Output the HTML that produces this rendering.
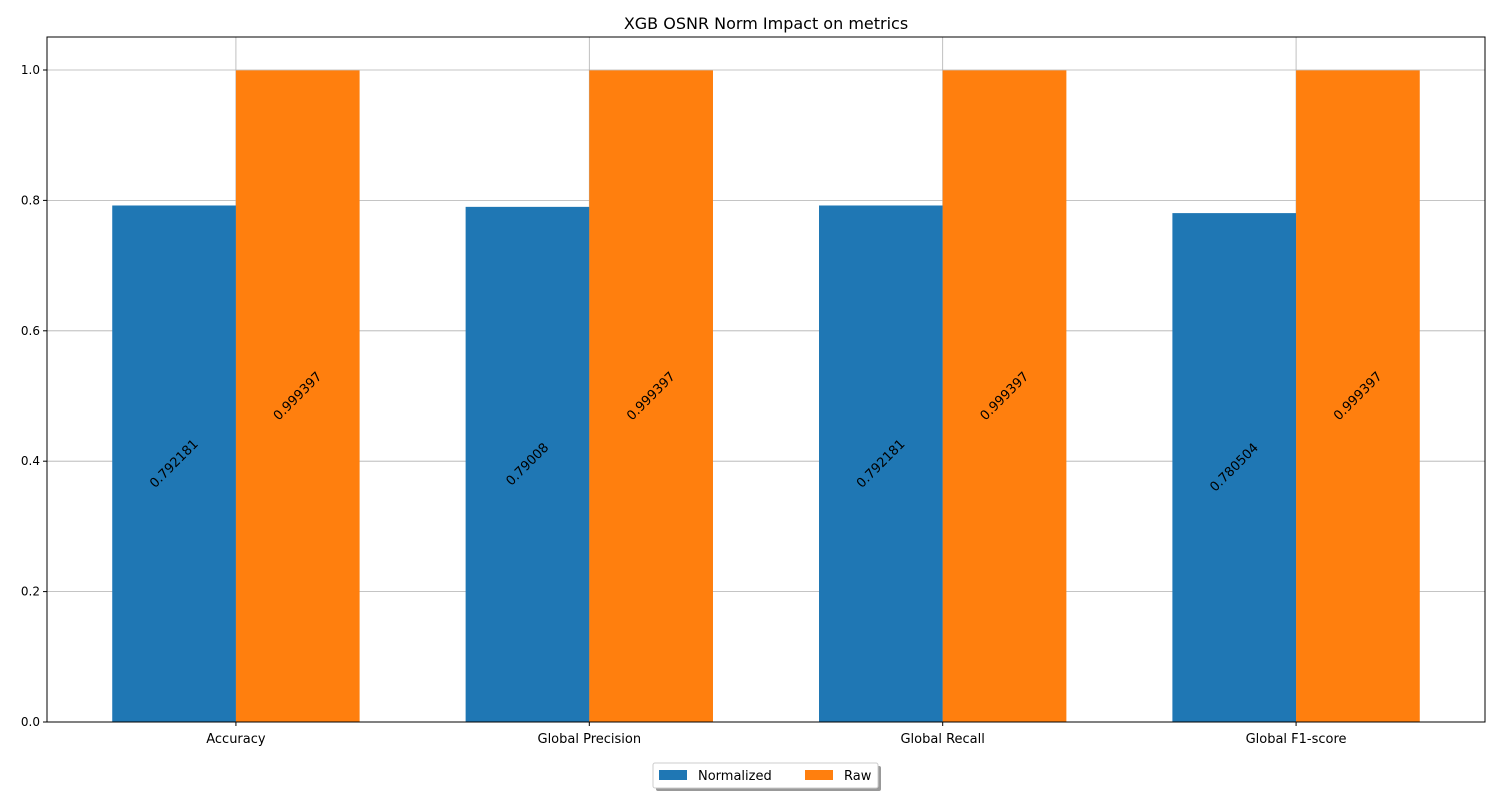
<!DOCTYPE html>
<html><head><meta charset="utf-8"><style>
body{margin:0;background:#fff;}
svg{display:block;font-family:"DejaVu Sans","Liberation Sans",sans-serif;}
</style></head><body>
<svg id="c" width="1500" height="800">
<text x="766" y="29" font-size="16" text-anchor="middle">XGB OSNR Norm Impact on metrics</text>
<g id="grid"></g><g id="bars"></g><g id="labels"></g><g id="axes"></g>
<g>
<rect x="656" y="766" width="225" height="25" rx="2" fill="#999"/>
<rect x="653" y="763" width="225" height="25" rx="2" fill="#fff" stroke="#ccc"/>
<rect x="659" y="770" width="28" height="10" fill="#1f77b4"/>
<text x="698" y="780" font-size="13">Normalized</text>
<rect x="805" y="770" width="28" height="10" fill="#ff7f0e"/>
<text x="844" y="780" font-size="13">Raw</text>
</g>
</svg>
<script>
const categories=["Accuracy","Global Precision","Global Recall","Global F1-score"];
const normalized=[0.792181,0.79008,0.792181,0.780504];
const raw=[0.999397,0.999397,0.999397,0.999397];
const yTicks=[0,0.2,0.4,0.6,0.8,1.0];
const yTickLabels=["0.0","0.2","0.4","0.6","0.8","1.0"];
const L=47,R=1485,T=37,B=722,yMax=1.0506,xMin=-0.5346,xMax=3.5346,W=0.35;
const NS="http://www.w3.org/2000/svg";
const xs=v=>L+(v-xMin)/(xMax-xMin)*(R-L);
const ys=v=>B-v/yMax*(B-T);
function mk(p,t,a){const e=document.createElementNS(NS,t);for(const k in a)e.setAttribute(k,a[k]);document.getElementById(p).appendChild(e);return e;}
yTicks.forEach((t,i)=>{
 const g=mk('grid','line',{x1:L,x2:R,y1:ys(t),y2:ys(t),stroke:'#b0b0b0','stroke-width':0.8});
 
 
 mk('axes','line',{x1:L-4,x2:L,y1:ys(t),y2:ys(t),stroke:'#000'});
 const tx=mk('axes','text',{x:L-7,y:ys(t)+4,'font-size':12,'text-anchor':'end'});
 tx.textContent=yTickLabels[i];
 
 
});
categories.forEach((c,i)=>{
 const g=mk('grid','line',{x1:xs(i),x2:xs(i),y1:T,y2:B,stroke:'#b0b0b0','stroke-width':0.8});
 
 
 mk('axes','line',{x1:xs(i),x2:xs(i),y1:B,y2:B+4,stroke:'#000'});
 const tx=mk('axes','text',{x:xs(i),y:B+21,'font-size':13,'text-anchor':'middle'});
 tx.textContent=c;
 
 
 [[normalized,-1,'#1f77b4','normalized'],[raw,0,'#ff7f0e','raw']].forEach(([arr,off,col,nm])=>{
  const x0=xs(i+off*W),x1=xs(i+(off+1)*W),v=arr[i];
  const b=mk('bars','rect',{x:x0,y:ys(v),width:x1-x0,height:B-ys(v),fill:col});
  
  
  const cx=(x0+x1)/2,cy=ys(v/2);
  const t=mk('labels','text',{x:cx,y:cy+4,'font-size':13,'text-anchor':'middle',transform:`rotate(-45 ${cx} ${cy})`});
  t.textContent=String(v);
  
  
 });
});
const f=mk('axes','rect',{x:L,y:T,width:R-L,height:B-T,fill:'none',stroke:'#000','stroke-width':1});


</script>
</body></html>
